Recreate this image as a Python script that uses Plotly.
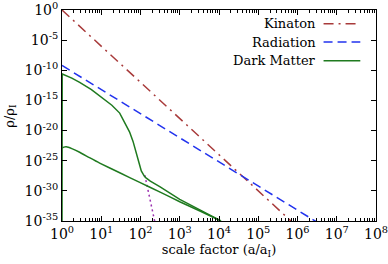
import plotly.graph_objects as go

# ---- data (log10 of scale factor, log10 of rho/rho_I) ----
kin_loga = [0.0, 6.0]
kin_logr = [0.0, -36.0]

rad_loga = [0.0, 7.0]
rad_logr = [-9.2, -37.2]

dm1_loga = [0.0, 0.005, 0.25, 0.45, 0.75, 1.04, 1.27, 1.47, 1.60, 1.72, 1.81, 1.89, 1.96, 2.02, 2.07, 2.10, 2.14, 2.25, 2.49, 2.75, 3.0, 3.5, 4.05]
dm1_logr = [-40.0, -10.6, -11.3, -12.0, -13.2, -14.6, -15.8, -17.1, -18.6, -20.2, -21.8, -23.5, -25.3, -26.7, -27.3, -27.6, -27.85, -28.4, -29.3, -30.4, -31.4, -33.1, -35.0]

dm2_loga = [0.0, 0.05, 0.11, 0.25, 0.45, 0.7, 0.96, 1.47, 1.98, 2.5, 3.0, 3.5, 4.05]
dm2_logr = [-22.9, -22.75, -22.7, -23.0, -23.6, -24.5, -25.4, -27.0, -28.6, -30.2, -31.8, -33.3, -35.0]

dec_loga = [2.11, 2.16, 2.20, 2.27, 2.32, 2.37]
dec_logr = [-27.4, -28.9, -30.2, -32.3, -33.7, -35.3]

xtick_exp = [0, 1, 2, 3, 4, 5, 6, 7, 8]
ytick_exp = [0, -5, -10, -15, -20, -25, -30, -35]

legend_names = ["Kinaton", "Radiation", "Dark Matter"]

C_KIN = "#a83a3a"
C_RAD = "#2233ee"
C_DM = "#1f7a1f"
C_DEC = "#9b30b0"

def p10(v):
    return [10.0 ** e for e in v]

fig = go.Figure()
fig.add_trace(go.Scatter(x=p10(kin_loga), y=p10(kin_logr), mode="lines",
                         line=dict(color=C_KIN, width=1.5, dash="10px,5px,2px,5px"),
                         name=legend_names[0], showlegend=False))
fig.add_trace(go.Scatter(x=p10(rad_loga), y=p10(rad_logr), mode="lines",
                         line=dict(color=C_RAD, width=1.5, dash="9px,5px"),
                         name=legend_names[1], showlegend=False))
fig.add_trace(go.Scatter(x=p10(dec_loga), y=p10(dec_logr), mode="lines",
                         line=dict(color=C_DEC, width=1.5, dash="2px,3px"),
                         showlegend=False))
fig.add_trace(go.Scatter(x=p10(dm1_loga), y=p10(dm1_logr), mode="lines",
                         line=dict(color=C_DM, width=1.5),
                         name=legend_names[2], showlegend=False))
fig.add_trace(go.Scatter(x=p10(dm2_loga), y=p10(dm2_logr), mode="lines",
                         line=dict(color=C_DM, width=1.5, shape="spline", smoothing=0.5),
                         showlegend=False))

FONT = "DejaVu Serif"

# manual gnuplot-style key (text right-aligned, sample to the right)
key_y = [0.935, 0.848, 0.76]
key_dash = ["10px,5px,2px,5px", "9px,5px", "solid"]
key_col = [C_KIN, C_RAD, C_DM]
for name, yy, dsh, col in zip(legend_names, key_y, key_dash, key_col):
    fig.add_annotation(x=0.815, y=yy, xref="paper", yref="paper", text=name,
                       showarrow=False, xanchor="right", yanchor="middle",
                       font=dict(family=FONT, size=13, color="black"))
    fig.add_shape(type="line", xref="paper", yref="paper", x0=0.833, x1=0.95,
                  y0=yy, y1=yy, line=dict(color=col, width=1.5, dash=dsh))

# y-axis title placed like the reference
fig.add_annotation(x=-0.165, y=0.5, xref="paper", yref="paper", text="ρ/ρ<sub>I</sub>",
                   showarrow=False, textangle=-90, xanchor="center", yanchor="middle",
                   font=dict(family=FONT, size=13, color="black"))

minor_x = [m * 10.0 ** k for k in range(0, 8) for m in range(2, 10)]

fig.update_xaxes(type="log", range=[0, 8], automargin=False, ticklabeloverflow="allow",
                 tickvals=[10.0 ** e for e in xtick_exp],
                 ticktext=["10<sup>%d</sup>" % e for e in xtick_exp],
                 ticks="inside", ticklen=5, tickcolor="black", tickwidth=1,
                 minor=dict(tickvals=minor_x, ticks="inside", ticklen=3, tickcolor="black"),
                 showline=True, linecolor="black", linewidth=1, mirror="ticks",
                 showgrid=False, zeroline=False,
                 tickfont=dict(family=FONT, size=14, color="black"),
                 title=dict(text="scale factor (a/a<sub>I</sub>)", standoff=4,
                            font=dict(family=FONT, size=13, color="black")))
fig.update_yaxes(type="log", range=[-35, 0], automargin=False, ticklabeloverflow="allow",
                 tickvals=[10.0 ** e for e in ytick_exp],
                 ticktext=["10<sup>%d</sup>" % e for e in ytick_exp],
                 ticks="inside", ticklen=5, tickcolor="black", tickwidth=1,
                 showline=True, linecolor="black", linewidth=1, mirror="ticks",
                 showgrid=False, zeroline=False,
                 tickfont=dict(family=FONT, size=14, color="black"))

fig.update_layout(width=388, height=264, margin=dict(l=62, r=12, t=10, b=43),
                  font=dict(family=FONT, color="black"),
                  paper_bgcolor="white", plot_bgcolor="white", showlegend=False)

fig.write_html("out.html", config={"displayModeBar": False})
